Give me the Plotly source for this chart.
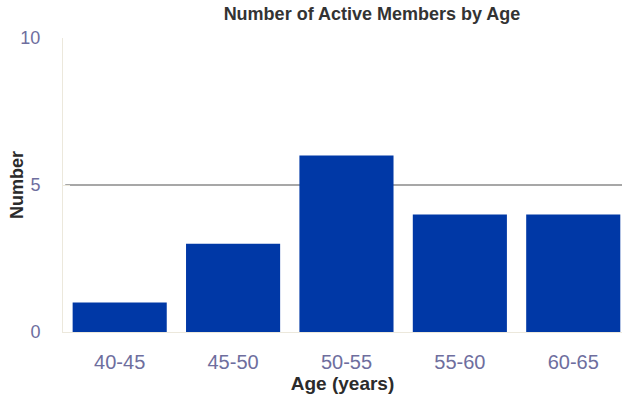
import plotly.graph_objects as go

categories = ["40-45", "45-50", "50-55", "55-60", "60-65"]
members = [1, 3, 6, 4, 4]
y_ticks = [0, 5, 10]

W, H = 622, 398
ml, mr, mt, mb = 63, 0, 38, 66

fig = go.Figure(go.Bar(x=categories, y=members, marker=dict(color="#0038A6", line=dict(width=0))))

fig.update_layout(
    width=W, height=H,
    margin=dict(l=ml, r=mr, t=mt, b=mb, pad=0),
    paper_bgcolor="white", plot_bgcolor="white",
    bargap=0.17,
    showlegend=False,
    font=dict(family="Liberation Sans, Arial, sans-serif"),
    title=dict(text="<b>Number of Active Members by Age</b>", x=372 / W, xanchor="center",
               y=1 - 14 / H, yanchor="middle", font=dict(size=18, color="#333333")),
    shapes=[dict(type="line", xref="paper", yref="y", x0=0.004, x1=1, y0=5, y1=5,
                 line=dict(color="#8a8a8a", width=1.5), layer="below")],
    annotations=[dict(text="<b>Number</b>", xref="paper", yref="paper",
                      x=-(ml - 17) / (W - ml - mr), y=0.5, xanchor="center", yanchor="middle",
                      textangle=-90, showarrow=False,
                      font=dict(size=18, color="#2b2b2b"))],
)

fig.update_xaxes(
    range=[-0.5, 4.43],
    showgrid=False, showline=True, linecolor="#ece8dc", linewidth=1,
    tickfont=dict(size=20, color="#6e6e9e"), ticks="", ticklabelstandoff=12,
    title=dict(text="<b>Age (years)</b>", font=dict(size=19, color="#2b2b2b"), standoff=4),
)
fig.update_yaxes(
    range=[0, 10], tickvals=y_ticks, ticktext=[str(v) for v in y_ticks],
    showgrid=False, zeroline=False, showline=True, linecolor="#ece8dc", linewidth=1,
    ticks="inside", ticklen=7, tickcolor="#ece8dc",
    tickfont=dict(size=18, color="#6e6e9e"), ticklabelstandoff=18,
)

fig.write_html("out.html")
